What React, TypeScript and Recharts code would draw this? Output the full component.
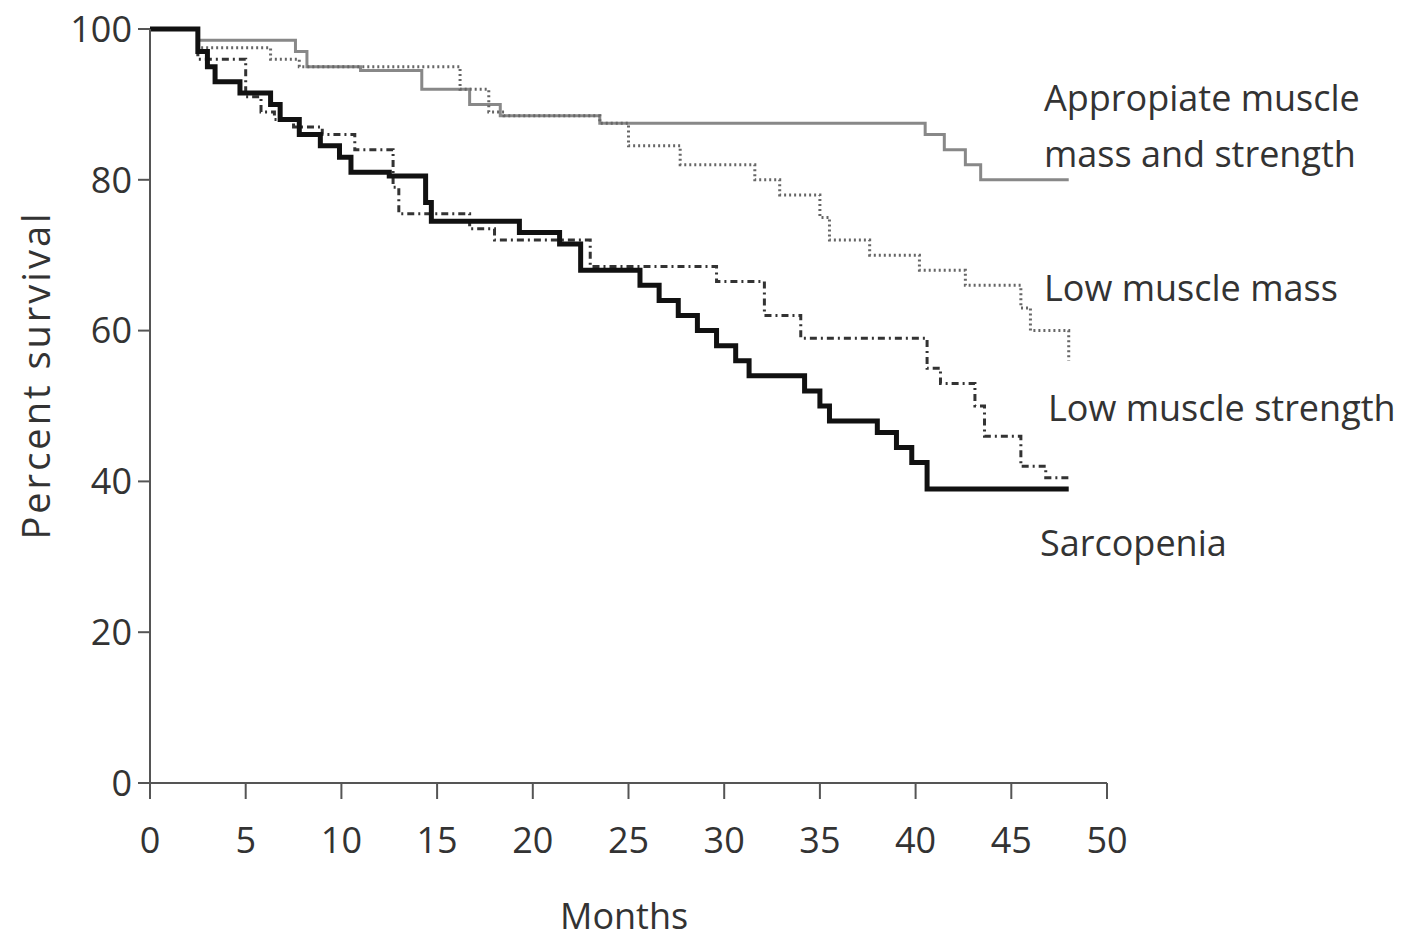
import React from "react";
import { LineChart, Line, XAxis, YAxis } from "recharts";

const xTicks = [0, 5, 10, 15, 20, 25, 30, 35, 40, 45, 50];
const yTicks = [0, 20, 40, 60, 80, 100];

// [months, percent survival] step points
const appropriate = [
  [0, 100], [2.5, 98.5], [7.6, 97], [8.2, 95], [11, 94.5], [14.2, 92], [16.7, 90],
  [18.3, 88.5], [23.5, 87.5], [40.5, 86], [41.5, 84], [42.6, 82], [43.4, 80], [48, 80],
];
const lowMass = [
  [0, 100], [2.5, 97.5], [6.3, 96], [7.8, 95], [16.2, 92], [17.7, 89], [18.5, 88.5],
  [23.5, 87.5], [25, 84.5], [27.7, 82], [31.6, 80], [32.9, 78], [35, 75], [35.5, 72],
  [37.6, 70], [40.2, 68], [42.6, 66], [45.5, 63], [46, 60], [48, 56],
];
const lowStrength = [
  [0, 100], [2.5, 96], [5, 91], [5.8, 89], [6.5, 88], [7.5, 87], [9, 86], [10.7, 84],
  [12.7, 79], [13, 75.5], [16.7, 73.5], [18, 72], [23, 68.5], [29.6, 66.5], [32.1, 62],
  [34, 59], [40.6, 55], [41.3, 53], [43.1, 50], [43.6, 46], [45.5, 42], [46.8, 40.5], [48, 40.5],
];
const sarcopenia = [
  [0, 100], [2.5, 97], [3, 95], [3.4, 93], [4.7, 91.5], [6.3, 90], [6.8, 88], [7.8, 86],
  [8.9, 84.5], [9.9, 83], [10.5, 81], [12.5, 80.5], [14.4, 77], [14.7, 74.5], [19.3, 73],
  [21.4, 71.5], [22.5, 68], [25.6, 66], [26.6, 64], [27.6, 62], [28.6, 60], [29.6, 58],
  [30.6, 56], [31.3, 54], [34.2, 52], [35, 50], [35.5, 48], [38, 46.5], [39, 44.5],
  [39.8, 42.5], [40.6, 39], [48, 39],
];

const toPts = (a: number[][]) => a.map(([x, y]) => ({ x, y }));

const font = "'Open Sans', sans-serif";
const tickStyle = { fill: "#333", fontSize: 36, fontFamily: font };

const labelStyle: React.CSSProperties = {
  position: "absolute",
  fontFamily: font,
  fontSize: 36,
  color: "#333",
  lineHeight: "56px",
  whiteSpace: "nowrap",
};

export default function App() {
  return (
    <div style={{ position: "absolute", left: 0, top: 0, width: 1410, height: 943, background: "#fff" }}>
      <LineChart width={1410} height={943} margin={{ top: 29, right: 303, left: 60, bottom: 90 }}>
        <XAxis
          type="number"
          dataKey="x"
          domain={[0, 50]}
          ticks={xTicks}
          tick={tickStyle}
          tickSize={16}
          tickMargin={28}
          height={70}
          axisLine={{ stroke: "#555", strokeWidth: 2 }}
          tickLine={{ stroke: "#555", strokeWidth: 2 }}
        />
        <YAxis
          type="number"
          dataKey="y"
          domain={[0, 100]}
          ticks={yTicks}
          tick={tickStyle}
          tickSize={12}
          tickMargin={6}
          width={90}
          axisLine={{ stroke: "#555", strokeWidth: 2 }}
          tickLine={{ stroke: "#555", strokeWidth: 2 }}
        />
        <Line data={toPts(appropriate)} dataKey="y" type="stepAfter" stroke="#888" strokeWidth={3} dot={false} isAnimationActive={false} />
        <Line data={toPts(lowMass)} dataKey="y" type="stepAfter" stroke="#666" strokeWidth={3} strokeDasharray="2 3" dot={false} isAnimationActive={false} />
        <Line data={toPts(lowStrength)} dataKey="y" type="stepAfter" stroke="#333" strokeWidth={3} strokeDasharray="7 4 2 4" dot={false} isAnimationActive={false} />
        <Line data={toPts(sarcopenia)} dataKey="y" type="stepAfter" stroke="#111" strokeWidth={5} dot={false} isAnimationActive={false} />
      </LineChart>
      <div style={{ ...labelStyle, left: 1044, top: 70 }}>Appropiate muscle<br />mass and strength</div>
      <div style={{ ...labelStyle, left: 1044, top: 260 }}>Low muscle mass</div>
      <div style={{ ...labelStyle, left: 1048, top: 380 }}>Low muscle strength</div>
      <div style={{ ...labelStyle, left: 1040, top: 515 }}>Sarcopenia</div>
      <div style={{ ...labelStyle, left: 560, top: 888 }}>Months</div>
      <div
        style={{
          ...labelStyle,
          left: 35,
          top: 375,
          fontSize: 38,
          letterSpacing: 3,
          transform: "translate(-50%, -50%) rotate(-90deg)",
        }}
      >
        Percent survival
      </div>
    </div>
  );
}
